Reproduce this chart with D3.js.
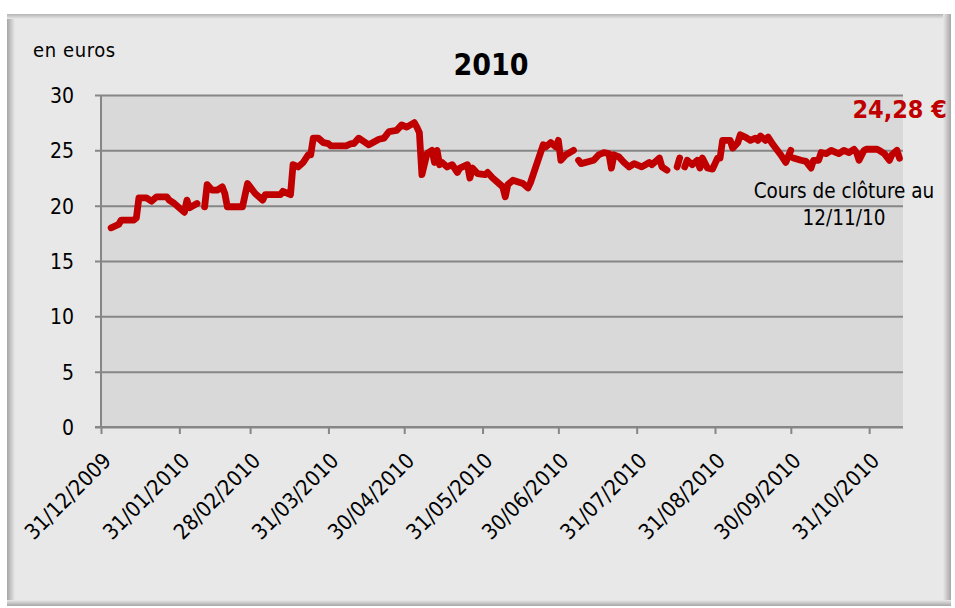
<!DOCTYPE html>
<html><head><meta charset="utf-8">
<script src="https://cdn.jsdelivr.net/npm/d3@7"></script>
<style>body{margin:0;background:#fff}</style>
</head><body><svg id="c" width="955" height="608"></svg>
<script>
// ---- data (closing prices, euros; null = gap in series) ----
const dates = [
"2010-01-04","2010-01-07","2010-01-08","2010-01-13","2010-01-14","2010-01-15","2010-01-18","2010-01-20","2010-01-22","2010-01-26","2010-01-27","2010-01-29","2010-02-02","2010-02-03","2010-02-04","2010-02-07",
"2010-02-08",
"2010-02-10","2010-02-11","2010-02-13","2010-02-15","2010-02-17","2010-02-18","2010-02-19","2010-02-25","2010-02-27","2010-03-02","2010-03-05","2010-03-06","2010-03-12","2010-03-13","2010-03-16","2010-03-17","2010-03-19","2010-03-21","2010-03-23","2010-03-24","2010-03-25","2010-03-27","2010-03-29","2010-03-31","2010-04-01","2010-04-07","2010-04-09","2010-04-10","2010-04-12","2010-04-14","2010-04-16","2010-04-20","2010-04-22","2010-04-24","2010-04-27","2010-04-29","2010-05-01","2010-05-04","2010-05-05","2010-05-06","2010-05-07","2010-05-09","2010-05-11","2010-05-12","2010-05-13","2010-05-14","2010-05-15","2010-05-17","2010-05-19","2010-05-21","2010-05-22","2010-05-25","2010-05-26","2010-05-27","2010-05-29","2010-06-01","2010-06-02","2010-06-04","2010-06-06","2010-06-08","2010-06-09","2010-06-10","2010-06-12","2010-06-16","2010-06-18","2010-06-19","2010-06-24","2010-06-25","2010-06-27","2010-06-29","2010-06-30","2010-07-01","2010-07-03","2010-07-06",
"2010-07-07",
"2010-07-08","2010-07-09","2010-07-14","2010-07-16","2010-07-18","2010-07-20","2010-07-21","2010-07-22","2010-07-24","2010-07-26","2010-07-28","2010-07-30","2010-08-02","2010-08-05","2010-08-06","2010-08-09","2010-08-10","2010-08-12",
"2010-08-14",
"2010-08-16","2010-08-17",
"2010-08-18",
"2010-08-19","2010-08-20","2010-08-22","2010-08-24","2010-08-25","2010-08-26","2010-08-28","2010-08-30","2010-09-01","2010-09-02","2010-09-03","2010-09-06","2010-09-07","2010-09-09","2010-09-10","2010-09-12","2010-09-14","2010-09-16","2010-09-17","2010-09-18","2010-09-20","2010-09-21","2010-09-23","2010-09-26","2010-09-28","2010-09-30",
"2010-09-30T12:00",
"2010-10-01","2010-10-04","2010-10-06","2010-10-08","2010-10-09","2010-10-11","2010-10-12","2010-10-14","2010-10-16","2010-10-18","2010-10-19","2010-10-21","2010-10-23","2010-10-25","2010-10-26","2010-10-27","2010-10-29","2010-10-30","2010-11-03","2010-11-04","2010-11-06","2010-11-08","2010-11-09","2010-11-11","2010-11-12"
];
const values = [
18.0,18.3,18.7,18.7,18.9,20.7,20.7,20.4,20.8,20.8,20.5,20.2,19.4,20.5,19.8,20.2,
null,
19.9,21.9,21.4,21.4,21.7,21.1,19.9,19.9,22.0,21.1,20.5,21.0,21.0,21.3,21.0,23.7,23.5,23.9,24.6,24.6,26.1,26.1,25.7,25.6,25.4,25.4,25.6,25.6,26.1,25.8,25.5,26.0,26.1,26.7,26.8,27.3,27.1,27.5,27.1,26.6,22.8,24.7,25.0,23.9,25.0,23.7,23.9,23.5,23.7,23.0,23.4,23.7,22.5,23.4,22.9,22.8,23.0,22.5,22.1,21.7,20.8,21.9,22.3,22.0,21.6,22.1,25.5,25.3,25.7,25.3,25.9,24.1,24.6,25.0,
null,
24.1,23.8,24.1,24.6,24.8,24.7,23.4,24.6,24.4,23.9,23.5,23.8,23.5,23.9,23.7,24.3,23.5,23.2,
null,
23.5,24.3,
null,
23.5,24.1,23.7,24.1,23.4,24.3,23.4,23.3,24.3,24.3,25.9,25.9,25.2,25.7,26.4,26.2,25.9,26.1,25.9,26.3,25.9,26.2,25.5,24.6,23.9,25.0,
null,
24.3,24.1,24.0,23.4,24.1,24.1,24.8,24.7,25.0,24.8,24.7,25.0,24.8,25.1,24.8,24.1,25.0,25.1,25.1,25.0,24.7,24.1,24.6,25.0,24.28
];
const yTicks = [0,5,10,15,20,25,30];
const xTickDates = ["2009-12-31","2010-01-31","2010-02-28","2010-03-31","2010-04-30","2010-05-31","2010-06-30","2010-07-31","2010-08-31","2010-09-30","2010-10-31"];
const xDomain = ["2009-12-31","2010-11-13"];
const titleText = "2010";
const unitText = "en euros";
const lastValueText = "24,28 €";
const noteLines = ["Cours de clôture au","12/11/10"];

// ---- drawing ----
const svg = d3.select("#c");
const font = "'DejaVu Sans Condensed','DejaVu Sans',sans-serif";
const red = "#c00000";
const parse = s => new Date(s.length > 10 ? s : s + "T00:00");

// frame
const defs = svg.append("defs");
function grad(id, x1,y1,x2,y2, c1, c2){
  const g = defs.append("linearGradient").attr("id",id)
    .attr("x1",x1).attr("y1",y1).attr("x2",x2).attr("y2",y2);
  g.append("stop").attr("offset","0").attr("stop-color",c1);
  g.append("stop").attr("offset","1").attr("stop-color",c2);
}
grad("gl",0,0,1,0,"#a6a6a6","#e8e8e8");
grad("gt",0,0,0,1,"#b4b4b4","#e8e8e8");
grad("gr",0,0,1,0,"#e8e8e8","#a6a6a6");
grad("gb",0,0,0,1,"#e8e8e8","#a6a6a6");
svg.append("rect").attr("x",7).attr("y",14).attr("width",944).attr("height",592).attr("fill","#e8e8e8");
svg.append("rect").attr("x",7).attr("y",14).attr("width",8).attr("height",592).attr("fill","url(#gl)");
svg.append("rect").attr("x",7).attr("y",14).attr("width",944).attr("height",5).attr("fill","url(#gt)");
svg.append("rect").attr("x",943).attr("y",14).attr("width",8).attr("height",592).attr("fill","url(#gr)");
svg.append("rect").attr("x",7).attr("y",600).attr("width",944).attr("height",6).attr("fill","url(#gb)");

const L = 101, R = 902, T = 95, B = 427;
const x = d3.scaleTime().domain(xDomain.map(parse)).range([L, R]);
const y = d3.scaleLinear().domain([0, 30]).range([B, T]);

svg.append("rect").attr("x",L).attr("y",T).attr("width",R-L+1).attr("height",B-T).attr("fill","#d9d9d9");

// grid + y axis
const gy = svg.append("g").attr("transform",`translate(${L},0)`)
  .call(d3.axisLeft(y).tickValues(yTicks).tickSize(6).tickPadding(21).tickFormat(d3.format("d")));
gy.select(".domain").attr("stroke","#868686").attr("stroke-width",2).attr("d",`M0,${T}V${B}`);
gy.selectAll(".tick line").attr("stroke","#868686").attr("stroke-width",2).attr("x2",-6).attr("x1",R-L+1);
gy.selectAll(".tick text").attr("font-family",font).attr("font-size",21).attr("fill","#000").attr("dy","0.36em");

// x axis
const gx = svg.append("g").attr("transform",`translate(0,${B})`)
  .call(d3.axisBottom(x).tickValues(xTickDates.map(parse)).tickSize(7).tickFormat(d3.timeFormat("%d/%m/%Y")));
gx.select(".domain").attr("stroke","#868686").attr("stroke-width",2).attr("d",`M${L-6},0H${R+1}`);
gx.selectAll(".tick line").attr("stroke","#868686").attr("stroke-width",2);
gx.selectAll(".tick text").attr("font-family",font).attr("font-size",21.5).attr("fill","#000")
  .attr("text-anchor","end").attr("dy",null).attr("y",0)
  .attr("transform","translate(11,35) rotate(-45)");

// line
const data = dates.map((d,i)=>({d:parse(d), v:values[i]}));
const line = d3.line().defined(p=>p.v!==null).x(p=>x(p.d)).y(p=>y(p.v));
svg.append("path").datum(data).attr("d",line).attr("fill","none")
  .attr("stroke",red).attr("stroke-width",6.8).attr("stroke-linejoin","round").attr("stroke-linecap","round");

// texts
svg.append("text").attr("x",491).attr("y",75).attr("text-anchor","middle")
  .attr("font-family",font).attr("font-weight","bold").attr("font-size",30).text(titleText);
svg.append("text").attr("x",33).attr("y",57).attr("font-family",font).attr("font-size",20)
  .attr("letter-spacing",0.6).text(unitText);
svg.append("text").attr("x",947).attr("y",118).attr("text-anchor","end").attr("fill",red)
  .attr("font-family",font).attr("font-weight","bold").attr("font-size",25).text(lastValueText);
svg.append("text").attr("x",844).attr("y",198).attr("text-anchor","middle")
  .attr("font-family",font).attr("font-size",20.5).text(noteLines[0]);
svg.append("text").attr("x",844).attr("y",225).attr("text-anchor","middle")
  .attr("font-family",font).attr("font-size",20.5).text(noteLines[1]);
</script></body></html>
